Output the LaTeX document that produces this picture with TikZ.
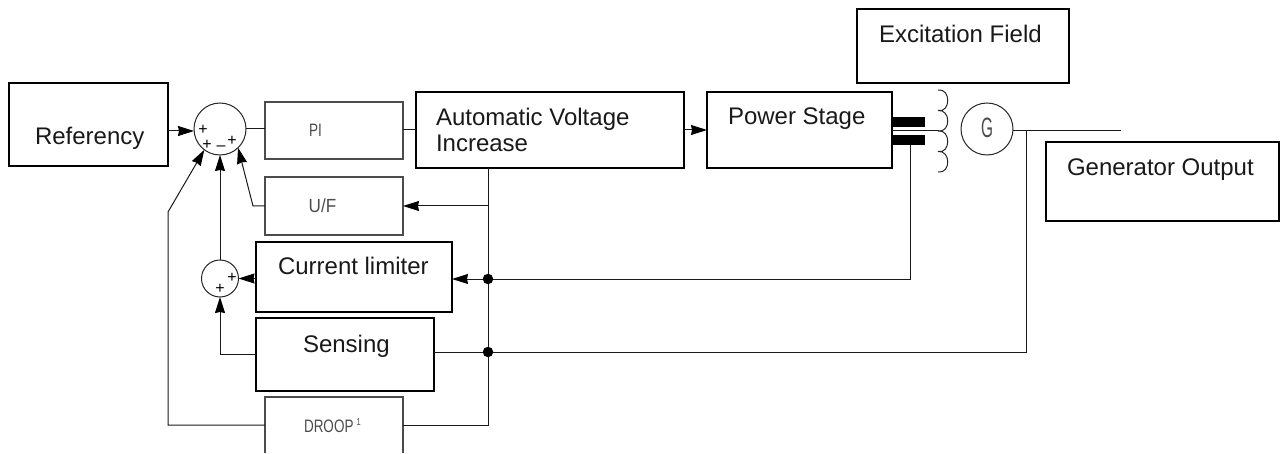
\documentclass[tikz,border=0pt]{standalone}
\usepackage{fontspec}
\setmainfont{Liberation Sans}
\newfontfamily\cad[FakeStretch=0.75]{Liberation Sans}
\newfontfamily\cadu[FakeStretch=0.9]{Liberation Sans}
\newfontfamily\cadg[FakeStretch=0.55]{Liberation Sans}
\usetikzlibrary{arrows.meta,calc}
\tikzset{
  thickbox/.style={draw=black,line width=1.7pt,inner sep=0pt,outer sep=0pt},
  thinbox/.style={draw=black!70,line width=1.2pt,inner sep=0pt,outer sep=0pt},
  lbl/.style={anchor=base west,inner sep=0pt,outer sep=0pt,font=\fontsize{24}{26.6}\selectfont,align=left,text=black!90},
  cadlbl/.style={inner sep=0pt,outer sep=0pt,text=black!70,font=\cad\fontsize{18}{18}\selectfont},
  signlbl/.style={inner sep=0pt,outer sep=0pt,font=\fontsize{16}{16}\selectfont},
  ring/.style={circle,draw=black!85,line width=1pt,inner sep=0pt,outer sep=0pt},
  dot/.style={circle,fill=black,inner sep=0pt,outer sep=0pt,minimum size=10.5pt},
  conn/.style={line width=1pt,draw=black!90},
  arr/.style={conn,-{Stealth[length=16pt,width=10pt,inset=1pt,fill=black,color=black]}}
}
\begin{document}
\begin{tikzpicture}[x=1pt,y=-1pt]
\useasboundingbox (0,0) rectangle (1281,454);
% boxes
\node[thickbox,minimum width=159pt,minimum height=83pt] (ref) at (88.5,124.5) {};
\node[thinbox,minimum width=138pt,minimum height=57pt] (pi) at (334,130.5) {};
\node[thickbox,minimum width=268pt,minimum height=76pt] (avi) at (550,130) {};
\node[thickbox,minimum width=185pt,minimum height=76pt] (pow) at (799.5,130) {};
\node[thinbox,minimum width=138pt,minimum height=58pt] (uf) at (334,206) {};
\node[thickbox,minimum width=196pt,minimum height=70pt] (cur) at (354,277) {};
\node[thickbox,minimum width=178pt,minimum height=73pt] (sens) at (345,354.5) {};
\node[minimum width=138pt,minimum height=56pt,inner sep=0pt,outer sep=0pt] (droop) at (334,425) {};
\draw[draw=black!70,line width=1.2pt] (droop.south west) -- (droop.north west) -- (droop.north east) -- (droop.south east);
\node[thickbox,minimum width=212pt,minimum height=74pt] (exc) at (963,46) {};
\node[thickbox,minimum width=233pt,minimum height=79pt] (gen) at (1162.5,181.5) {};
% rings and dots
\node[ring,minimum size=52pt] (sum) at (220,129) {};
\node[ring,minimum size=37pt] (lim) at (220,278.5) {};
\node[ring,minimum size=52pt] (g) at (987,129) {};
\node[dot] (j1) at (488,279) {};
\node[dot] (j2) at (488,352) {};
% labels
\node[lbl] (treff) at (35,145) {Referency};
\node[lbl] (tavi) at (436,152) {Automatic Voltage\\Increase};
\node[lbl] (tpow) at (728,125) {Power Stage};
\node[lbl] (texc) at (879,43) {Excitation Field};
\node[lbl] (tgen) at (1067,176) {Generator Output};
\node[lbl] (tcur) at (278,274) {Current limiter};
\node[lbl] (tsen) at (303,352) {Sensing};
\node[cadlbl] (tpi) at (315.5,130.5) {PI};
\node[cadlbl,font=\cadu\fontsize{19}{19}\selectfont] (tuf) at (322.5,206) {U/F};
\node[cadlbl,anchor=base west] (tdr) at (304,432) {DROOP\,\raisebox{7pt}{\fontsize{10}{10}\selectfont 1}};
\node[cadlbl,font=\cadg\fontsize{28}{28}\selectfont] (tg) at (987,128) {G};
\node[signlbl] (s1) at (203,130) {+};
\node[signlbl] (s2) at (207,145) {+};
\node[signlbl] (s3) at (221,148) {--};
\node[signlbl] (s4) at (232,141) {+};
\node[signlbl] (s5) at (220,289) {+};
\node[signlbl] (s6) at (232,278) {+};
% helper coordinates
\coordinate (yl) at (0,131);
\coordinate (cdroop) at (168,425);
\coordinate (cdiag) at (168,212);
\coordinate (cuf) at (253,206);
\coordinate (cbar) at (910,145);
\coordinate (cout) at (1121,131);
\coordinate (coilmid) at (939,131);
\coordinate (cv) at (1026,352);
% power output hardware
\fill[black] (893,117) rectangle (925,127);
\fill[black] (893,135) rectangle (925,145);
\draw[line width=1pt,draw=black!85] (938,90) .. controls (951,88) and (951,113) .. (938,110.5)
  .. controls (951,109) and (951,133) .. (938,131)
  .. controls (951,129) and (951,154) .. (938,151.5)
  .. controls (951,150) and (951,174) .. (938,172);
% connectors
\draw[arr] (ref.east |- yl) -- (sum.west |- yl);
\draw[conn] (sum.east) -- (pi.west |- sum.east);
\draw[conn] (pi.east |- avi.west) -- (avi.west);
\draw[arr] (avi.east) -- (pow.west);
\draw[conn] (pow.east |- yl) -- (coilmid);
\draw[conn] (g.east |- yl) -- (cout);
\draw[conn] (avi.south -| j1) -- (j1) -- (j2) -- (j2 |- cdroop) -- (droop.east |- cdroop);
\draw[arr] (uf.east -| j1) -- (uf.east);
\draw[arr] (uf.west) -- (cuf) -- (sum.-46);
\draw[arr] (lim.north) -- (sum.south);
\draw[arr] (cur.west |- lim) -- (lim.east);
\draw[arr] (j1) -- (cur.east |- j1);
\draw[arr] (sens.west) -- (sens.west -| lim) -- (lim.south);
\draw[conn] (sens.east |- j2) -- (j2) -- (cv) -- (cv |- yl);
\draw[conn] (j1) -- (j1 -| cbar) -- (cbar);
\draw[arr] (droop.west) -- (cdroop) -- (cdiag) -- (sum.233);
\end{tikzpicture}
\end{document}
